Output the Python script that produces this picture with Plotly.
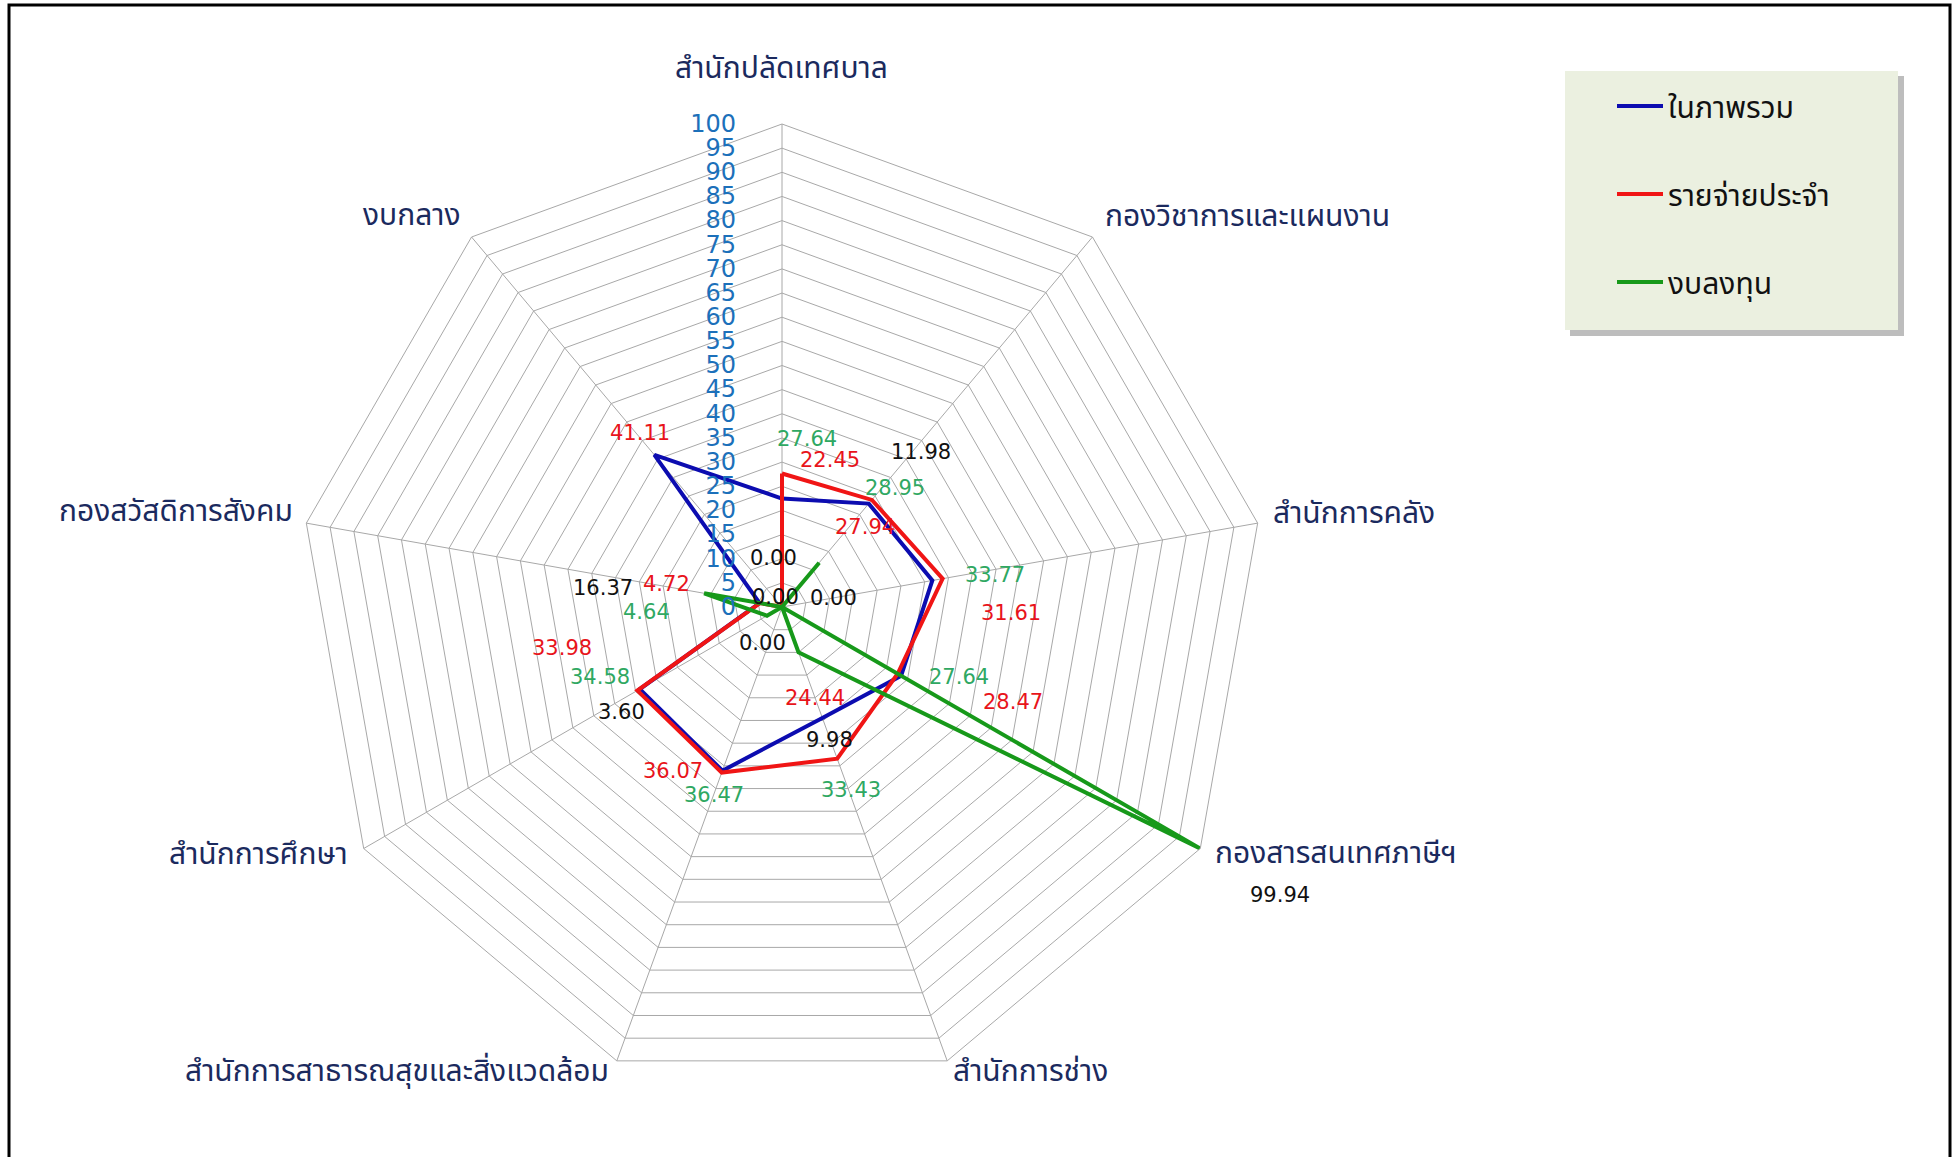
import math
import plotly.graph_objects as go

# ---------------- data ----------------
categories = [
    "สำนักปลัดเทศบาล",
    "กองวิชาการและแผนงาน",
    "สำนักการคลัง",
    "กองสารสนเทศภาษีฯ",
    "สำนักการช่าง",
    "สำนักการสาธารณสุขและสิ่งแวดล้อม",
    "สำนักการศึกษา",
    "กองสวัสดิการสังคม",
    "งบกลาง",
]
series_names = ["ในภาพรวม", "รายจ่ายประจำ", "งบลงทุน"]
overall = [22.45, 27.94, 31.61, 28.47, 24.44, 36.07, 33.98, 4.72, 41.11]
recurrent = [27.64, 28.95, 33.77, 27.64, 33.43, 36.47, 34.58, 4.64, 0.00]
investment = [0.00, 11.98, 0.00, 99.94, 9.98, 0.00, 3.60, 16.37, 0.00]
radial_ticks = list(range(0, 101, 5))

# ---------------- style / layout ----------------
W, H = 1955, 1157
THAI = "Tahoma, 'Noto Sans Thai', 'Noto Sans', 'DejaVu Sans', sans-serif"
NUM = "'DejaVu Sans', Verdana, sans-serif"
line_colors = ["#0C0CB0", "#F01515", "#17991A"]
label_colors = ["#E8141B", "#2FA862", "#111111"]
cat_color = "#1B2A5E"

# manual label offsets in pixels (dx right, dy down) from each point; None = no label
label_offsets = [
    [(48, -39), (-4, 23), (79, 33), (112, 26), (-7, -20), (-49, 0), (-78, -41), (-93, -19), (-14, -22)],
    [(25, -34), (23, -12), (52, -4), (61, 3), (14, 31), (-8, 22), (-37, -14), (-113, 9), None],
    [(-9, -49), (102, -111), (51, -9), (80, 47), (31, 88), (-20, 36), (-145, 96), (-101, -5), (-7, -10)],
]
# category label centre offsets from each outer vertex (px)
cat_offsets = [(-1, -55), (155, -20), (96, -9), (136, 6), (83, 11), (-220, 11), (-105, 6), (-130, -11), (-60, -21)]

cx, cy, R = 782, 607, 483  # pixel geometry of polar area
dom_x = [(cx - R) / W, (cx + R) / W]
dom_y = [(H - cy - R) / H, (H - cy + R) / H]
RMAX = 100
px_per_unit = R / RMAX

n = len(categories)
thetas = [i * 360.0 / n for i in range(n)]


def to_px(v, theta_deg):
    th = math.radians(theta_deg)
    return cx + v * px_per_unit * math.sin(th), cy - v * px_per_unit * math.cos(th)


fig = go.Figure()
all_series = [overall, recurrent, investment]
for k, (name, vals) in enumerate(zip(series_names, all_series)):
    fig.add_trace(go.Scatterpolar(
        r=vals + [vals[0]],
        theta=categories + [categories[0]],
        mode="lines",
        name=name,
        legendgroup=name,
        line=dict(color=line_colors[k], width=4),
        hoverinfo="skip",
    ))

annotations = []
# data labels
for k, vals in enumerate(all_series):
    for i, v in enumerate(vals):
        off = label_offsets[k][i]
        if off is None:
            continue
        px, py = to_px(v, thetas[i])
        annotations.append(dict(
            x=(px + off[0]) / W, y=1 - (py + off[1]) / H, xref="paper", yref="paper",
            text=f"{v:.2f}", showarrow=False, xanchor="center", yanchor="middle",
            font=dict(family=NUM, size=21, color=label_colors[k]),
        ))

# category labels next to the outer vertices
for i, name in enumerate(categories):
    px, py = to_px(RMAX, thetas[i])
    annotations.append(dict(
        x=(px + cat_offsets[i][0]) / W, y=1 - (py + cat_offsets[i][1]) / H,
        xref="paper", yref="paper",
        text=name, showarrow=False, xanchor="center", yanchor="middle",
        font=dict(family=THAI, size=30, color=cat_color),
    ))

grid_col = "#A8A8A8"
fig.update_layout(
    width=W, height=H,
    margin=dict(l=0, r=0, t=0, b=0),
    paper_bgcolor="white",
    plot_bgcolor="white",
    annotations=annotations,
    polar=dict(
        domain=dict(x=dom_x, y=dom_y),
        gridshape="linear",
        bgcolor="white",
        angularaxis=dict(
            type="category",
            rotation=90, direction="clockwise",
            showticklabels=False,
            showline=True, linecolor=grid_col, linewidth=1,
            gridcolor=grid_col, gridwidth=1,
            ticks="",
        ),
        radialaxis=dict(
            range=[0, RMAX], angle=90, side="counterclockwise",
            tickmode="array", tickvals=radial_ticks,
            ticktext=[str(t) for t in radial_ticks],
            tickfont=dict(family=NUM, size=24, color="#1C70BA"),
            showline=False, gridcolor=grid_col, gridwidth=1,
            ticks="outside", ticklen=37, tickcolor="rgba(0,0,0,0)",
            tickangle=90,
        ),
    ),
    legend=dict(
        x=1612 / W, y=1 - 80 / H, xanchor="left", yanchor="top",
        bgcolor="rgba(0,0,0,0)",
        font=dict(family=THAI, size=30, color="#111111"),
        tracegroupgap=46, itemwidth=46,
    ),
    showlegend=True,
)


def px2paper(x0, y0, x1, y1):
    return dict(x0=x0 / W, x1=x1 / W, y0=1 - y0 / H, y1=1 - y1 / H)


shapes = []
# legend shadow + box
shapes.append(dict(type="rect", xref="paper", yref="paper", layer="below",
                   fillcolor="#BDBDBD", line=dict(width=0), **px2paper(1570, 76, 1904, 336)))
shapes.append(dict(type="rect", xref="paper", yref="paper", layer="below",
                   fillcolor="#EBF0E0", line=dict(width=0), **px2paper(1565, 71, 1898, 330)))
# outer border
shapes.append(dict(type="rect", xref="paper", yref="paper", layer="above",
                   fillcolor="rgba(0,0,0,0)", line=dict(color="black", width=3),
                   **px2paper(9, 5, 1950, 1175)))
fig.update_layout(shapes=shapes)

fig.write_html(
    "out.html",
    config={"displayModeBar": False},
    post_script="document.body.style.margin='0px';document.body.style.overflow='hidden';",
)
